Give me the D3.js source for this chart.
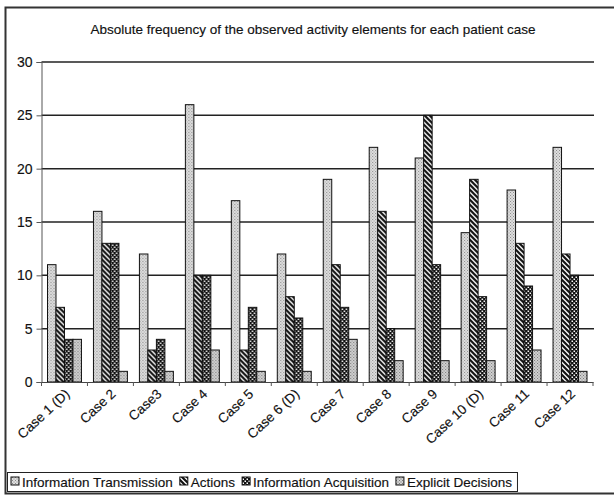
<!DOCTYPE html>
<html>
<head>
<meta charset="utf-8">
<script src="https://cdn.jsdelivr.net/npm/d3@7"></script>
<style>
  html, body { margin: 0; padding: 0; background: #fff; }
  svg { display: block; font-family: "Liberation Sans", Arial, sans-serif; }
  text { stroke: #111; stroke-width: 0.15px; }
</style>
</head>
<body>
<svg id="chart" width="614" height="496"></svg>
<script>
// Observed activity elements per patient case
const cases = ["Case 1 (D)", "Case 2", "Case3", "Case 4", "Case 5", "Case 6 (D)",
               "Case 7", "Case 8", "Case 9", "Case 10 (D)", "Case 11", "Case 12"];
const seriesNames = ["Information Transmission", "Actions", "Information Acquisition", "Explicit Decisions"];
const infoTransmission  = [11, 16, 12, 26, 17, 12, 19, 22, 21, 14, 18, 22];
const actions           = [7, 13, 3, 10, 3, 8, 11, 16, 25, 19, 13, 12];
const infoAcquisition   = [4, 13, 4, 10, 7, 6, 7, 5, 11, 8, 9, 10];
const explicitDecisions = [4, 1, 1, 3, 1, 1, 4, 2, 2, 2, 3, 1];
const yTicks = [0, 5, 10, 15, 20, 25, 30];

const series = [infoTransmission, actions, infoAcquisition, explicitDecisions];
const patternIds = ["pIT", "pAct", "pAcq", "pDec"];

const svg = d3.select("#chart");
const defs = svg.append("defs");

// stippled light gray
function stipple(id, bg, dot) {
  const p = defs.append("pattern").attr("id", id).attr("patternUnits", "userSpaceOnUse")
    .attr("width", 3).attr("height", 3);
  p.append("rect").attr("width", 3).attr("height", 3).attr("fill", bg);
  p.append("rect").attr("x", 0).attr("y", 0).attr("width", 1).attr("height", 1).attr("fill", dot);
  p.append("rect").attr("x", 1.5).attr("y", 1.5).attr("width", 1).attr("height", 1).attr("fill", dot);
}
stipple("pIT", "#e0e0e0", "#888");
stipple("pDec", "#d2d2d2", "#777");

// diagonal hatch, falling left to right
{
  const p = defs.append("pattern").attr("id", "pAct").attr("patternUnits", "userSpaceOnUse")
    .attr("width", 5).attr("height", 5);
  p.append("rect").attr("width", 5).attr("height", 5).attr("fill", "#fff");
  p.append("path").attr("d", "M-1,-1 L6,6 M-1,4 L1,6 M4,-1 L6,1")
    .attr("stroke", "#111").attr("stroke-width", 2.2);
}
// small checkerboard
{
  const p = defs.append("pattern").attr("id", "pAcq").attr("patternUnits", "userSpaceOnUse")
    .attr("width", 4).attr("height", 4);
  p.append("rect").attr("width", 4).attr("height", 4).attr("fill", "#111");
  p.append("rect").attr("x", 0.5).attr("y", 0.5).attr("width", 1.5).attr("height", 1.5).attr("fill", "#fff");
  p.append("rect").attr("x", 2.5).attr("y", 2.5).attr("width", 1.5).attr("height", 1.5).attr("fill", "#fff");
}

// outer frame
svg.append("rect").attr("x", 5.5).attr("y", 7.5).attr("width", 620).attr("height", 486)
  .attr("fill", "none").attr("stroke", "#333").attr("stroke-width", 2);

// title
svg.append("text").attr("x", 313).attr("y", 34).attr("text-anchor", "middle")
  .attr("font-size", 13.5).attr("fill", "#111")
  .text("Absolute frequency of the observed activity elements for each patient case");

const plot = { left: 41.5, right: 593, top: 62, bottom: 382 };

const x0 = d3.scaleBand().domain(cases).range([plot.left, plot.right]).padding(0);
const x1 = d3.scaleBand().domain(d3.range(series.length))
  .range([6, x0.bandwidth() - 6]).padding(0);
const y = d3.scaleLinear().domain([0, 30]).range([plot.bottom, plot.top]);

// gridlines
svg.append("g").selectAll("line").data(yTicks.filter(d => d > 0)).join("line")
  .attr("x1", plot.left).attr("x2", plot.right + 1)
  .attr("y1", d => y(d)).attr("y2", d => y(d))
  .attr("stroke", "#222").attr("stroke-width", 1.5);

// y axis
const yAxis = d3.axisLeft(y).tickValues(yTicks).tickSize(5).tickPadding(4);
const gy = svg.append("g").attr("transform", `translate(${plot.left},0)`).call(yAxis);
gy.select(".domain").attr("stroke", "#555").attr("stroke-width", 1);
gy.selectAll(".tick line").attr("stroke", "#555");
gy.selectAll("text").attr("font-size", 14).attr("fill", "#111")
  .attr("font-family", "Liberation Sans, Arial, sans-serif");

// bars
const groups = svg.append("g").selectAll("g").data(cases).join("g")
  .attr("transform", d => `translate(${x0(d)},0)`);
groups.selectAll("rect").data((d, i) => series.map((s, k) => ({ k, v: s[i] }))).join("rect")
  .attr("x", d => x1(d.k))
  .attr("width", x1.bandwidth())
  .attr("y", d => y(d.v))
  .attr("height", d => y(0) - y(d.v))
  .attr("fill", d => `url(#${patternIds[d.k]})`)
  .attr("stroke", "#111").attr("stroke-width", 1);

// x axis
const xAxis = d3.axisBottom(x0).tickSize(0).tickFormat("");
const gx = svg.append("g").attr("transform", `translate(0,${plot.bottom})`).call(xAxis);
gx.select(".domain").attr("stroke", "#444").attr("stroke-width", 1.2);
gx.selectAll(".tick").remove();
gx.selectAll(".bound").data(d3.range(cases.length + 1)).join("line")
  .attr("x1", i => plot.left + i * x0.step()).attr("x2", i => plot.left + i * x0.step())
  .attr("y1", 0).attr("y2", 4).attr("stroke", "#555");

// rotated category labels
svg.append("g").selectAll("text").data(cases).join("text")
  .attr("transform", d => `translate(${x0(d) + x0.bandwidth() / 2 + 6},${plot.bottom + 13}) rotate(-43)`)
  .attr("text-anchor", "end").attr("font-size", 13.5).attr("fill", "#111")
  .text(d => d);

// legend
const lg = svg.append("g");
const legendY = 482;
let cx = 11;
seriesNames.forEach((name, k) => {
  lg.append("rect").attr("x", cx).attr("y", legendY - 5).attr("width", 8).attr("height", 8)
    .attr("fill", `url(#${patternIds[k]})`).attr("stroke", "#111").attr("stroke-width", 1);
  const t = lg.append("text").attr("x", cx + 11).attr("y", legendY + 4.5)
    .attr("font-size", 13.5).attr("fill", "#111").text(name);
  cx += 11 + t.node().getComputedTextLength() + 7;
});
lg.insert("rect", ":first-child").attr("x", 7.5).attr("y", 472.5).attr("width", cx - 7 - 2)
  .attr("height", 19).attr("fill", "#fff").attr("stroke", "#222").attr("stroke-width", 1);
</script>
</body>
</html>
